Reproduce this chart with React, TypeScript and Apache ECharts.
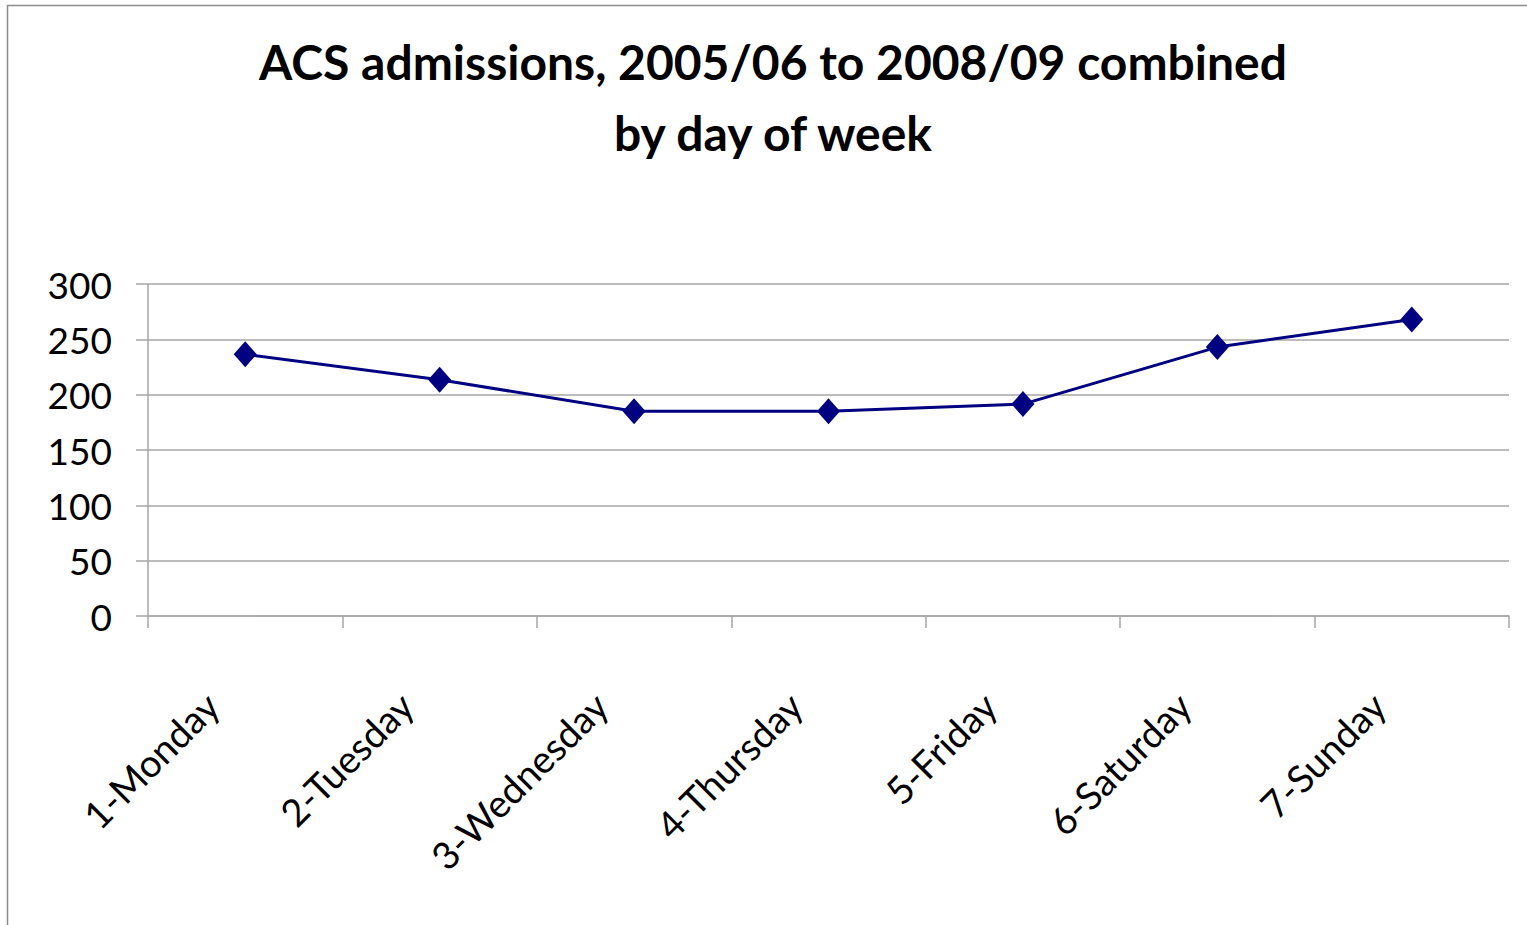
import React, { useEffect, useRef } from "react";
import * as echarts from "echarts";

const categories = ["1-Monday", "2-Tuesday", "3-Wednesday", "4-Thursday", "5-Friday", "6-Saturday", "7-Sunday"];
const admissions = [236.5, 213.5, 185, 185, 191.5, 243, 268];
const yTicks = { min: 0, max: 300, interval: 50 };
const titleLines = ["ACS admissions, 2005/06 to 2008/09 combined", "by day of week"];

const FONT = "Lato";

export default function App() {
  const ref = useRef<HTMLDivElement>(null);
  useEffect(() => {
    if (!ref.current) return;
    const chart = echarts.init(ref.current, null, { renderer: "svg" });
    chart.setOption({
      animation: false,
      backgroundColor: "#ffffff",
      graphic: [
        {
          type: "rect",
          shape: { x: 7.5, y: 5.5, width: 1540, height: 940 },
          style: { fill: "none", stroke: "#8c8c8c", lineWidth: 1.5 },
          silent: true,
        },
        {
          type: "text",
          x: 773,
          y: 26,
          style: {
            text: titleLines.join("\n"),
            fontFamily: FONT,
            fontWeight: "bold",
            fontSize: 48,
            lineHeight: 71,
            fill: "#000",
            align: "center",
            verticalAlign: "top",
          },
        },
      ],
      grid: { left: 148, right: 18, top: 284, bottom: 309, containLabel: false },
      xAxis: {
        type: "category",
        data: categories,
        boundaryGap: true,
        axisLine: { show: true, lineStyle: { color: "#a6a6a6", width: 1.5 } },
        axisTick: { show: true, length: 12, lineStyle: { color: "#a6a6a6", width: 1.5 } },
        axisLabel: {
          rotate: 45,
          interval: 0,
          margin: 50,
          padding: [0, 47, 0, 0],
          fontFamily: FONT,
          fontSize: 38,
          color: "#000",
        },
        splitLine: { show: false },
      },
      yAxis: {
        type: "value",
        min: yTicks.min,
        max: yTicks.max,
        interval: yTicks.interval,
        axisLine: { show: true, lineStyle: { color: "#a6a6a6", width: 1.5 } },
        axisTick: { show: true, length: 12, lineStyle: { color: "#a6a6a6", width: 1.5 } },
        axisLabel: { margin: 36, fontFamily: FONT, fontSize: 37, color: "#000" },
        splitLine: { show: true, lineStyle: { color: "#a6a6a6", width: 1.5 } },
      },
      series: [
        {
          type: "line",
          data: admissions,
          symbol: "diamond",
          symbolSize: [23, 26],
          itemStyle: { color: "#000080" },
          lineStyle: { color: "#000080", width: 3 },
        },
      ],
    });
    return () => chart.dispose();
  }, []);
  return (
    <div
      ref={ref}
      style={{ position: "absolute", left: 0, top: 0, width: 1527, height: 925 }}
    />
  );
}
